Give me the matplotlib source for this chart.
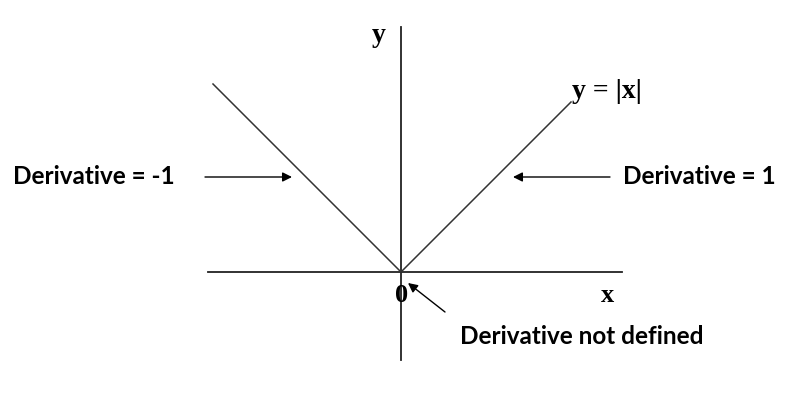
import matplotlib
matplotlib.use('Agg')
import matplotlib.pyplot as plt

# y = |x| sampled at the ends of the drawn branches and the corner
x_vals = [-1.88, 0.0, 1.70]
y_vals = [abs(v) for v in x_vals]

# axis extents
x_axis = [-1.93, 2.21]
y_axis = [-0.88, 2.45]

fig = plt.figure(figsize=(8.01, 4.0), dpi=100)
ax = fig.add_axes([0, 0, 1, 1])
ax.set_xlim(-4.01, 4.00)
ax.set_ylim(-1.28, 2.72)
ax.axis('off')

# axes
ax.plot(x_axis, [0, 0], color='#222222', lw=1.3)
ax.plot([0, 0], y_axis, color='#222222', lw=1.3)

# the function
ax.plot(x_vals, y_vals, color='#333333', lw=1.1)

serif = 'Liberation Serif'
sans = 'Lato'

ax.text(-0.22, 2.36, 'y', fontsize=20, fontweight='bold',
        family=serif, ha='center', va='center')
ax.text(2.07, -0.24, 'x', fontsize=19, fontweight='bold', family=serif,
        ha='center', va='center')
ax.text(2.06, 1.80, 'y = |x|', fontsize=20, fontweight='bold', family=serif,
        ha='center', va='center')
ax.text(0.01, -0.23, '0', fontsize=19, fontweight='bold', family=serif,
        ha='center', va='center', color='black')

arrow = dict(arrowstyle='-|>', color='black', lw=1.0, mutation_scale=14,
             shrinkA=0, shrinkB=0)

ax.text(-2.26, 0.95, 'Derivative = -1', fontsize=17.5, fontweight='bold',
        family=sans, ha='right', va='center')
ax.annotate('', xy=(-1.09, 0.95), xytext=(-1.96, 0.95), arrowprops=arrow)

ax.text(2.22, 0.95, 'Derivative = 1', fontsize=17.5, fontweight='bold',
        family=sans, ha='left', va='center')
ax.annotate('', xy=(1.12, 0.95), xytext=(2.09, 0.95), arrowprops=arrow)

ax.annotate('', xy=(0.07, -0.11), xytext=(0.44, -0.40), arrowprops=arrow)
ax.text(0.59, -0.64, 'Derivative not defined', fontsize=17.5, fontweight='bold',
        family=sans, ha='left', va='center')

fig.savefig('out.png', dpi=100)
